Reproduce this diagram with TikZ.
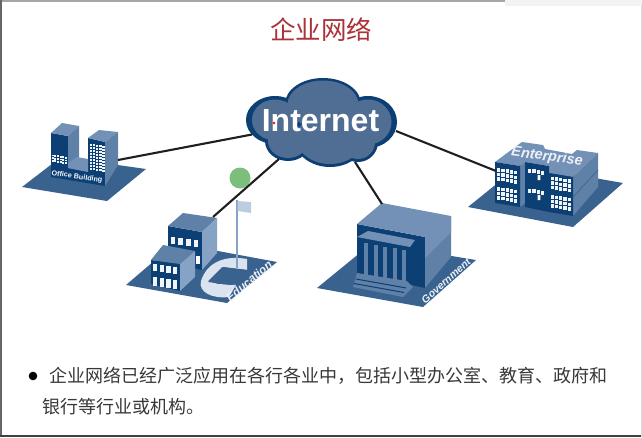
\documentclass[tikz,border=0pt]{standalone}
\usepackage{fontspec}
\setmainfont{Liberation Sans}
\newfontfamily\cjk{Noto Sans CJK SC}
\definecolor{plat}{HTML}{3A628F}
\definecolor{deep}{HTML}{0C3F73}
\definecolor{side}{HTML}{5F80A7}
\definecolor{sidelt}{HTML}{86A3C6}
\definecolor{roof}{HTML}{7391B6}
\definecolor{cloudin}{HTML}{506E94}
\definecolor{titlered}{HTML}{AA3238}
\definecolor{dotgreen}{HTML}{7CBF7C}
\newcommand{\wingrid}[8]{\foreach \i in {0,...,#3}\foreach \j in {0,...,#4}
  \fill[white!88!sidelt] ({#1+\i*#5},{#2+\j*#6+0.17*\i*#5}) rectangle +(#7,#8);}
\tikzset{
  link/.style={line width=2.1pt,draw=black!88},
  platform/.style={fill=plat},
  front/.style={fill=deep},
  sideface/.style={fill=side},
  lightface/.style={fill=sidelt},
  roofface/.style={fill=roof},
  tag/.style={text=white!85!sidelt,inner sep=0pt},
  body/.style={text=black!78,anchor=west,inner sep=0pt,font=\cjk\fontsize{18}{18}\selectfont},
}
\begin{document}
\begin{tikzpicture}[x=1pt,y=-1pt]
\useasboundingbox (0,0) rectangle (642,437);
% frame
\fill[white] (0,0) rectangle (642,437);
\fill[black!35] (0,0) rectangle (505,1.5);
\fill[pink!25!black!6] (505,0) rectangle (642,6);
\fill[black!60] (0,0) rectangle (2,437);
\fill[black!75] (0,434.5) rectangle (642,437);
\fill[black!15] (640.5,6) rectangle (642,437);
% title
\node[inner sep=0pt,text=titlered,font=\cjk\fontsize{25.5}{26}\selectfont] (title) at (321,30) {企业网络};
% connector end points
\coordinate (officeEnd) at (118,160);
\coordinate (cloudW) at (252,134.5);
\coordinate (eduEnd) at (213,217);
\coordinate (cloudSW) at (279,159);
\coordinate (govEnd) at (382,204);
\coordinate (cloudS) at (355,162);
\coordinate (entEnd) at (496,171);
\coordinate (cloudE) at (396,131);
% green dot under the link
\fill[dotgreen] (240,178) circle (10.5);
% office building
\fill[platform] (22,187)--(107,201)--(146,169)--(61,157)--cycle;
\fill[front] (51,133)--(68,136)--(68,168)--(88,172)--(88,138)--(105,142)--(105,186)--(51,177)--cycle;
\fill[roofface] (51,133)--(62,123)--(79,126)--(68,136)--cycle;
\fill[sideface] (68,136)--(79,126)--(79,157)--(68,163)--cycle;
\fill[roofface] (68,163)--(77,157)--(88,159)--(88,172)--(68,168)--cycle;
\fill[roofface] (88,138)--(99,130)--(118,132)--(105,142)--cycle;
\fill[sideface] (105,142)--(118,132)--(118,165)--(105,186)--cycle;
\wingrid{51.5}{154.5}{5}{2}{2.7}{2.7}{2}{1.9}
\wingrid{89.5}{143.5}{4}{8}{3.2}{3}{2.4}{2.1}
\node[inner sep=0pt,text=white!90!sidelt,rotate=-8,font=\bfseries\fontsize{7.2}{8}\selectfont] (officeTag) at (77,177) {Office Building};
% education
\fill[platform] (126,285)--(227,303)--(277,262)--(175,243)--cycle;
\fill[white!70!sidelt] (247,259) .. controls (225,255) and (207,262) .. (201,281) .. controls (198,292) and (212,299) .. (229,297)--(236,285)--(218,284)--(208,281)--(222,267)--(247,270)--cycle;
\fill[plat] (208,282)--(223,267)--(248,270)--(231,285)--cycle;
\fill[sidelt] (236.2,200) rectangle (238,268);
\fill[white!45!sidelt] (237.5,201)--(251,202)--(251,213)--(237.5,211)--cycle;
\fill[front] (168,226)--(202,232)--(202,270)--(168,262)--cycle;
\fill[side] (168,226)--(183,213)--(217,218)--(202,232)--cycle;
\fill[lightface] (202,232)--(217,218)--(217,253)--(202,270)--cycle;
\wingrid{170.5}{236.5}{3}{0}{7.7}{0}{4.7}{7}
\fill[white] (196,256) rectangle (199.5,264);
\fill[front] (151,260)--(180,264)--(180,291)--(151,284)--cycle;
\fill[side] (151,260)--(163,245)--(195,251)--(180,264)--cycle;
\fill[lightface] (180,264)--(195,251)--(195,277)--(180,291)--cycle;
\wingrid{153}{263.5}{3}{0}{6.7}{0}{4.2}{7}
\wingrid{153}{277}{3}{0}{6.7}{0}{4.2}{8.5}
\node[tag,rotate=40,font=\bfseries\itshape\fontsize{11.5}{12}\selectfont] (eduTag) at (249,281) {Education};
% government
\fill[platform] (317,288)--(423,307)--(476,260)--(372,243)--cycle;
\fill[front] (357,224)--(425,237)--(425,288)--(357,273)--cycle;
\fill[roofface] (357,224)--(382,203)--(451,216)--(425,237)--cycle;
\fill[sideface] (425,237)--(451,216)--(451,257)--(425,288)--cycle;
\fill[roofface] (425,237)--(451,216)--(451,232)--(425,258)--cycle;
\fill[roofface] (357,237)--(368,231)--(415,240)--(410,247)--cycle;
\foreach \cx in {364,373.5,383,392.5,402}
  \fill[side] (\cx,{243+(\cx-364)*.19}) rectangle ++(4,{32});
\fill[side] (357,273)--(407,281)--(413,287)--(403,297)--(353,287)--cycle;
\draw[line width=1pt,deep] (356,279)--(406,288) (354,283.5)--(404,292.5);
\node[tag,rotate=42,font=\bfseries\itshape\fontsize{10.5}{11}\selectfont] (govTag) at (446,281) {Government};
% enterprise
\fill[platform] (468,207)--(573,227)--(623,183)--(520,165)--cycle;
\fill[roofface] (495,162)--(522,142)--(543,145)--(545,149)--(572,154)--(577,150)--(598,153)--(573,177)--(549,173)--(549,166)--(525,162)--(520,166)--cycle;
\fill[sideface] (573,177)--(598,153)--(598,187)--(573,216)--cycle;
\draw[line width=.6pt,plat] (573,197)--(598,170);
\fill[sideface] (520,166)--(525,162)--(525,203)--(520,207)--cycle;
\fill[front] (495,162)--(520,166)--(520,207)--(495,203)--cycle;
\fill[front] (525,162)--(549,166)--(549,212)--(525,207)--cycle;
\fill[front] (549,173)--(573,177)--(573,216)--(549,212)--cycle;
\wingrid{497}{168}{4}{2}{4.3}{4.6}{3.2}{3.5}
\wingrid{497}{187}{4}{2}{4.3}{4.6}{3.2}{3.5}
\wingrid{550.5}{176.5}{4}{2}{4.3}{4.6}{3.2}{3.5}
\wingrid{550.5}{195}{4}{2}{4.3}{4.6}{3.2}{3.5}
\wingrid{528}{168.5}{3}{0}{4.4}{0}{3.2}{4}
\wingrid{528}{188.5}{3}{0}{4.4}{0}{3.2}{4}
\fill[white] (537.6,175) rectangle +(2.8,5) (537.6,195) rectangle +(2.8,5);
\node[tag,rotate=-8,font=\bfseries\itshape\fontsize{14.5}{15}\selectfont] (entTag) at (547,157) {Enterprise};
% cloud
\fill[deep] (275,120) ellipse [x radius=29,y radius=24];
\fill[deep] (323,104) ellipse [x radius=38,y radius=26];
\fill[deep] (368,122) ellipse [x radius=29,y radius=26];
\fill[deep] (288,141) ellipse [x radius=23,y radius=20];
\fill[deep] (330,138) ellipse [x radius=36,y radius=29];
\fill[deep] (358,142) ellipse [x radius=20,y radius=20];
\fill[cloudin] (275,120) ellipse [x radius=23,y radius=20.5];
\fill[cloudin] (323,104.5) ellipse [x radius=35.5,y radius=24];
\fill[cloudin] (368,122) ellipse [x radius=23.5,y radius=22.5];
\fill[cloudin] (288,141) ellipse [x radius=20,y radius=17];
\fill[cloudin] (330,138) ellipse [x radius=33.5,y radius=26];
\fill[cloudin] (358,142) ellipse [x radius=17,y radius=17];
\node[inner sep=0pt,text=white,font=\bfseries\fontsize{32}{32}\selectfont] (internet) at (320.5,121) {Internet};
\fill[red] (274,123) circle (1.3);
% connectors
\draw[link] (officeEnd)--(cloudW);
\draw[link] (eduEnd)--(cloudSW);
\draw[link] (govEnd)--(cloudS);
\draw[link] (entEnd)--(cloudE);
% text
\fill[black] (33,376) circle (4.3);
\node[body] (lineA) at (49,376) {企业网络已经广泛应用在各行各业中，包括小型办公室、教育、政府和};
\node[body] (lineB) at (42,407) {银行等行业或机构。};
\end{tikzpicture}
\end{document}
